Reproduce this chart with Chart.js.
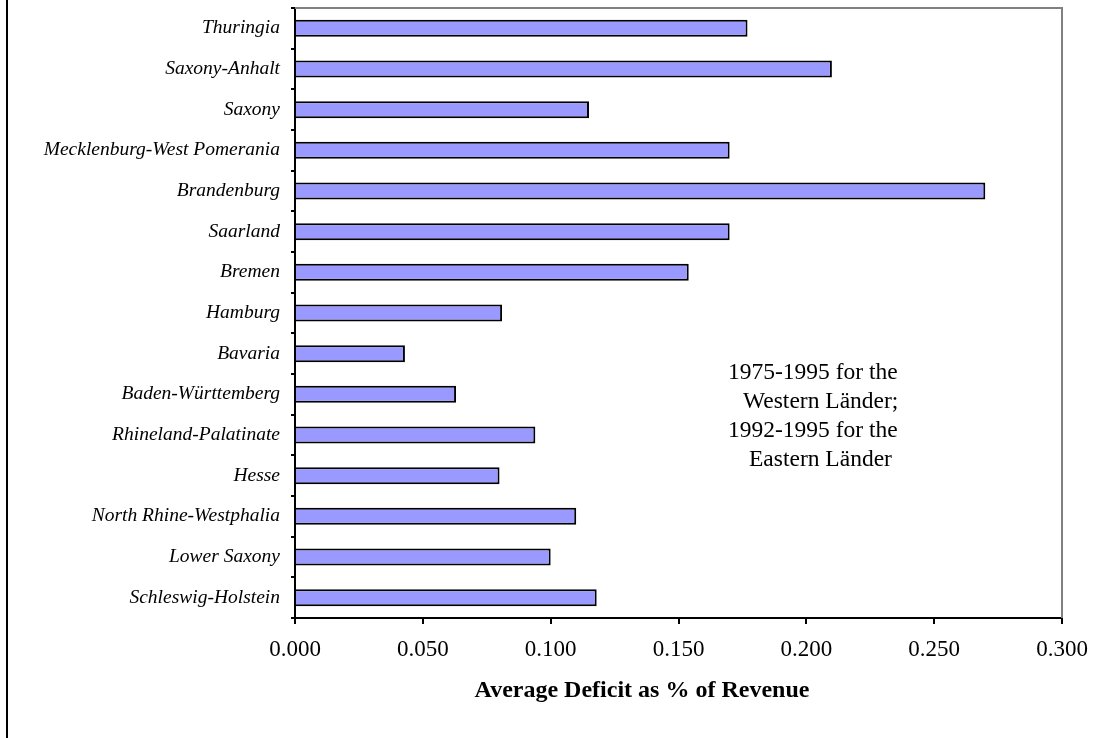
<!DOCTYPE html>
<html>
<head>
<meta charset="utf-8">
<title>Average Deficit as % of Revenue</title>
<script src="https://cdn.jsdelivr.net/npm/chart.js@4.4.1/dist/chart.umd.min.js"></script>
<style>
  html, body { margin: 0; padding: 0; background: #fff; }
  #wrap { width: 1114px; height: 738px; }
</style>
</head>
<body>
<div id="wrap"><canvas id="deficits" width="1114" height="738"></canvas></div>
<script>
// Länder, listed top to bottom
var lander = ["Thuringia", "Saxony-Anhalt", "Saxony", "Mecklenburg-West Pomerania",
    "Brandenburg", "Saarland", "Bremen", "Hamburg", "Bavaria", "Baden-Württemberg",
    "Rhineland-Palatinate", "Hesse", "North Rhine-Westphalia", "Lower Saxony",
    "Schleswig-Holstein"];
var deficit = [0.177, 0.210, 0.115, 0.170, 0.270, 0.170, 0.154, 0.081, 0.043, 0.063,
    0.094, 0.080, 0.110, 0.100, 0.118];
var xTicks = [0, 0.05, 0.1, 0.15, 0.2, 0.25, 0.3];
var axisTitle = "Average Deficit as % of Revenue";
var noteLines = ["1975-1995 for the", "Western Länder;", "1992-1995 for the", "Eastern Länder"];

var serif = "'Liberation Serif', 'Times New Roman', serif";

// frame, plot border, axis title and the period note
var extras = {
    id: 'extras',
    afterDraw: function (chart) {
        var ctx = chart.ctx;
        var area = chart.chartArea;
        ctx.save();

        ctx.strokeStyle = '#000';
        ctx.lineWidth = 2;
        ctx.beginPath();
        ctx.moveTo(7, 0);
        ctx.lineTo(7, chart.height);
        ctx.stroke();

        ctx.strokeStyle = '#808080';
        ctx.beginPath();
        ctx.moveTo(area.left, area.top);
        ctx.lineTo(area.right, area.top);
        ctx.lineTo(area.right, area.bottom);
        ctx.stroke();

        ctx.fillStyle = '#000';
        ctx.textBaseline = 'alphabetic';
        ctx.textAlign = 'center';
        ctx.font = 'bold 24px ' + serif;
        ctx.fillText(axisTitle, area.left + 347, 697);

        ctx.textAlign = 'left';
        ctx.font = '23.5px ' + serif;
        var indent = [0, 15, 0, 21];
        for (var i = 0; i < noteLines.length; i++) {
            ctx.fillText(noteLines[i], area.left + 433 + indent[i], 379 + i * 29);
        }
        ctx.restore();
    }
};

var ctx = document.getElementById('deficits').getContext('2d');
var chart = new Chart(ctx, {
    type: 'bar',
    data: {
        labels: lander,
        datasets: [{
            data: deficit,
            backgroundColor: '#9999FF',
            borderColor: '#000',
            borderWidth: 2,
            borderSkipped: 'start',
            barPercentage: 0.42,
            categoryPercentage: 1
        }]
    },
    options: {
        indexAxis: 'y',
        responsive: false,
        animation: false,
        layout: { padding: { left: 0, top: 8, right: 52, bottom: 0 } },
        plugins: {
            legend: { display: false },
            tooltip: { enabled: false }
        },
        scales: {
            x: {
                min: 0,
                max: 0.3,
                afterFit: function (scale) {
                    scale.height = 120;
                    scale.paddingLeft = 0;
                    scale.paddingRight = 0;
                },
                afterBuildTicks: function (scale) {
                    scale.ticks = xTicks.map(function (v) { return { value: v }; });
                },
                grid: { drawOnChartArea: false, color: '#000', lineWidth: 2, tickLength: 6 },
                border: { color: '#000', width: 2 },
                ticks: {
                    color: '#000',
                    padding: 12,
                    maxRotation: 0,
                    font: { family: serif, size: 23 },
                    callback: function (v) { return Number(v).toFixed(3); }
                }
            },
            y: {
                afterFit: function (scale) {
                    scale.width = 295;
                    scale.paddingTop = 0;
                    scale.paddingBottom = 0;
                },
                grid: { drawOnChartArea: false, offset: true, color: '#000', lineWidth: 2, tickLength: 4 },
                border: { color: '#000', width: 2 },
                ticks: {
                    color: '#000',
                    padding: 11,
                    font: { family: serif, size: 19.5, style: 'italic' }
                }
            }
        }
    },
    plugins: [extras]
});
</script>
</body>
</html>
